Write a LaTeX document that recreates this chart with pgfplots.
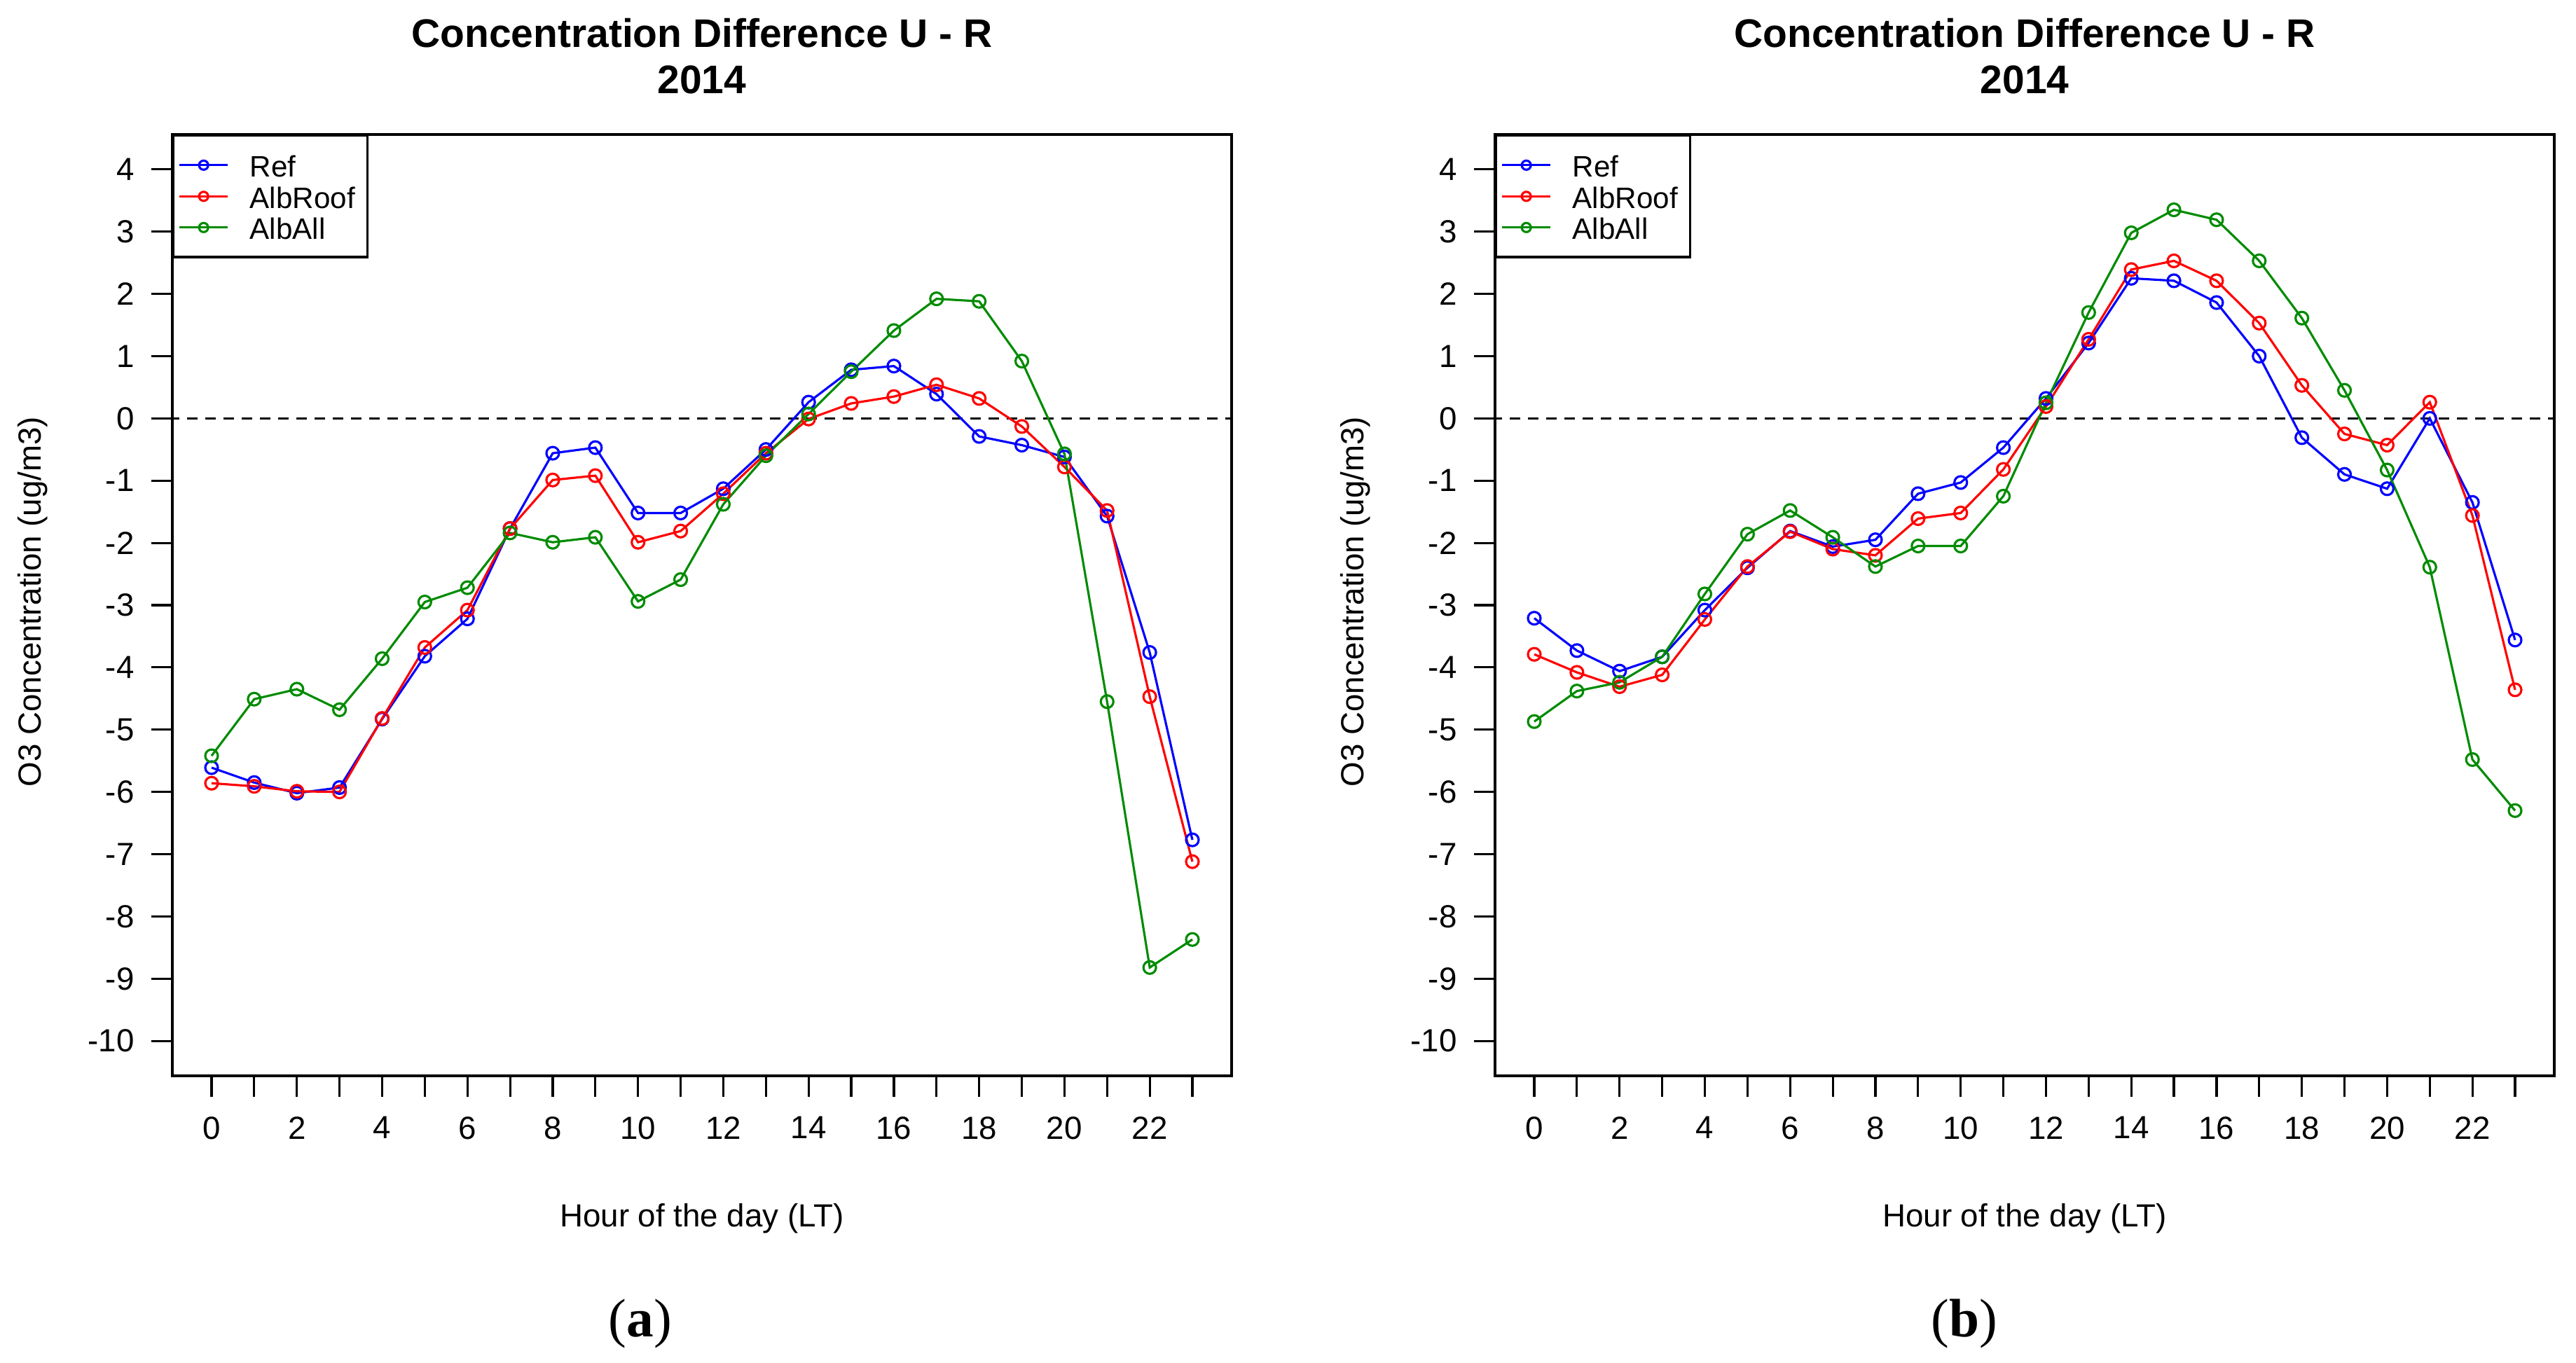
\documentclass[border=0pt]{standalone}
\usepackage{fontspec}
\setmainfont{Liberation Sans}
\newfontfamily\seriffont{Liberation Serif}
\usepackage{pgfplots}
\pgfplotsset{compat=1.18}

\definecolor{rblue}{RGB}{0,0,255}
\definecolor{rred}{RGB}{255,0,0}
\definecolor{rgreen}{RGB}{0,139,0}

% hourly O3 differences, panel (a)
\pgfplotstableread{
h   ref    roof   all
0  -5.61  -5.86  -5.42
1  -5.85  -5.91  -4.51
2  -6.02  -5.99  -4.35
3  -5.93  -6.00  -4.68
4  -4.83  -4.82  -3.86
5  -3.82  -3.68  -2.95
6  -3.22  -3.08  -2.72
7  -1.77  -1.77  -1.84
8  -0.56  -0.99  -1.99
9  -0.47  -0.92  -1.91
10 -1.52  -1.99  -2.94
11 -1.52  -1.81  -2.59
12 -1.13  -1.21  -1.38
13 -0.50  -0.56  -0.60
14  0.26  -0.01   0.07
15  0.78   0.24   0.75
16  0.84   0.35   1.41
17  0.39   0.54   1.92
18 -0.29   0.32   1.88
19 -0.43  -0.13   0.92
20 -0.62  -0.78  -0.57
21 -1.57  -1.48  -4.55
22 -3.76  -4.47  -8.82
23 -6.77  -7.12  -8.37
}\dataA

% panel (b)
\pgfplotstableread{
h   ref    roof   all
0  -3.21  -3.79  -4.87
1  -3.73  -4.08  -4.38
2  -4.06  -4.31  -4.24
3  -3.83  -4.12  -3.83
4  -3.08  -3.23  -2.82
5  -2.40  -2.38  -1.86
6  -1.81  -1.82  -1.48
7  -2.06  -2.10  -1.91
8  -1.95  -2.20  -2.38
9  -1.21  -1.61  -2.05
10 -1.03  -1.52  -2.05
11 -0.47  -0.82  -1.25
12  0.32   0.19   0.25
13  1.21   1.27   1.70
14  2.25   2.39   2.98
15  2.21   2.53   3.35
16  1.86   2.21   3.19
17  1.00   1.53   2.53
18 -0.31   0.53   1.61
19 -0.90  -0.25   0.45
20 -1.13  -0.43  -0.83
21  0.00   0.26  -2.39
22 -1.35  -1.56  -5.48
23 -3.56  -4.36  -6.30
}\dataB

\pgfplotsset{
  rpanel/.style={
    scale only axis, width=151.2mm, height=134.4mm,
    xmin=-0.92, xmax=23.92, ymin=-10.56, ymax=4.56,
    axis line style={line width=0.9pt},
    xtick={0,...,23},
    xticklabels={0,,2,,4,,6,,8,,10,,12,,14,,16,,18,,20,,22,},
    ytick={-10,...,4},
    tick pos=left, tick align=outside, major tick length=3mm,
    tick style={line width=0.9pt, black},
    ticklabel style={font=\fontsize{13}{15}\selectfont},
    /pgf/number format/assume math mode=true,
    xticklabel style={yshift=-1.6mm},
    yticklabel style={xshift=-1.2mm},
    every axis plot/.append style={line width=0.9pt, mark=o, mark size=0.9mm},
    legend cell align=left,
    legend image code/.code={
      \draw[mark repeat=2, mark phase=2, mark size=0.65mm]
        plot coordinates {(0mm,0mm) (3.45mm,0mm) (6.9mm,0mm)};},
    legend style={at={(0,1)}, anchor=north west, draw=black,
      line width=0.9pt, inner xsep=0.7mm, inner ysep=2.35mm,
      row sep=0.7mm, column sep=3mm,
      font=\fontsize{12}{14}\selectfont,
      nodes={inner sep=0pt, text height=3.55mm, text depth=0.2mm, text width=16.1mm}},
  }
}

\newcommand{\panel}[1]{%
  \addplot[black, dashed, dash pattern=on 1.5mm off 1.1mm, line width=0.9pt,
    mark=none, forget plot] coordinates {(-1,0) (24,0)};
  \addplot[rblue] table[x=h, y=ref] {#1};
  \addlegendentry{Ref}
  \addplot[rred] table[x=h, y=roof] {#1};
  \addlegendentry{AlbRoof}
  \addplot[rgreen] table[x=h, y=all] {#1};
  \addlegendentry{AlbAll}
}

\begin{document}
\begin{tikzpicture}
\useasboundingbox (0,0) rectangle (367.7mm,194.6mm);

\begin{axis}[rpanel, at={(24.6mm,41mm)}, anchor=south west]
  \panel{\dataA}
\end{axis}

\begin{axis}[rpanel, at={(213.4mm,41mm)}, anchor=south west]
  \panel{\dataB}
\end{axis}

\foreach \cx/\lx/\lab in {100.2/91.4/a, 289.0/280.4/b} {
  \node[font=\bfseries\fontsize{16.2}{18.7}\selectfont, align=center]
    at (\cx mm,186.6mm) {Concentration Difference U - R\\2014};
  \node[font=\fontsize{13}{15}\selectfont] at (\cx mm,20.6mm) {Hour of the day (LT)};
  \node[font=\seriffont\fontsize{22}{26}\selectfont] at (\lx mm,5.6mm) {(\textbf{\lab})};
}
\node[font=\fontsize{13}{15}\selectfont, rotate=90] at (4.7mm,108.7mm) {O3 Concentration (ug/m3)};
\node[font=\fontsize{13}{15}\selectfont, rotate=90] at (193.5mm,108.7mm) {O3 Concentration (ug/m3)};
\end{tikzpicture}
\end{document}
